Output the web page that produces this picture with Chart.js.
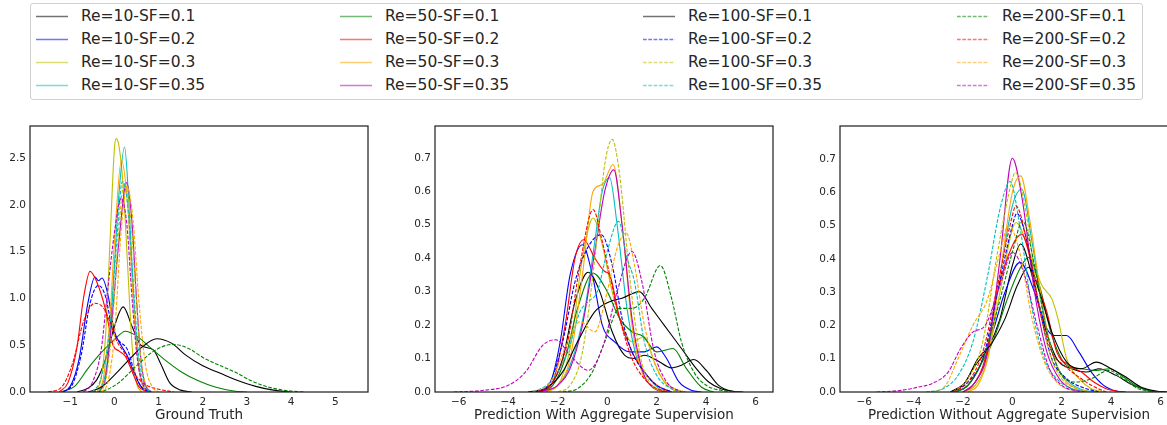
<!DOCTYPE html>
<html>
<head>
<meta charset="utf-8">
<script src="https://cdn.jsdelivr.net/npm/chart.js@4.4.1/dist/chart.umd.min.js"></script>
<style>
html, body { margin: 0; padding: 0; background: #fff; }
#wrap { position: relative; width: 1167px; height: 425px; overflow: hidden; font-family: "DejaVu Sans", sans-serif; }
#legend { position: absolute; left: 30px; top: 3px; width: 1111px; height: 95px; border: 1px solid #d0d0d0; border-radius: 3px; }
.item { position: absolute; height: 20px; line-height: 20px; font-size: 15.5px; color: #262626; white-space: nowrap; }
.item svg { position: absolute; left: 0; top: 9px; }
.item span { position: absolute; left: 45px; top: 0; }
.panel { position: absolute; top: 120px; }
</style>
</head>
<body>
<div id="wrap">
  <div id="legend"></div>
  <canvas id="c1" class="panel" width="384" height="305" style="left:-10px"></canvas>
  <canvas id="c2" class="panel" width="384" height="305" style="left:395px"></canvas>
  <canvas id="c3" class="panel" width="384" height="305" style="left:800px"></canvas>
</div>
<script>
/* ---------------- series ---------------- */
const seriesLabels = [
  "Re=10-SF=0.1", "Re=10-SF=0.2", "Re=10-SF=0.3", "Re=10-SF=0.35",
  "Re=50-SF=0.1", "Re=50-SF=0.2", "Re=50-SF=0.3", "Re=50-SF=0.35",
  "Re=100-SF=0.1", "Re=100-SF=0.2", "Re=100-SF=0.3", "Re=100-SF=0.35",
  "Re=200-SF=0.1", "Re=200-SF=0.2", "Re=200-SF=0.3", "Re=200-SF=0.35"
];
const seriesColors = [
  "#000000", "#0000ff", "#bfbf00", "#00bfbf",
  "#008000", "#ff0000", "#ffa500", "#bf00bf",
  "#000000", "#0000ff", "#bfbf00", "#00bfbf",
  "#008000", "#ff0000", "#ffa500", "#bf00bf"
];
const seriesDashed = [
  false, false, false, false,
  false, false, false, false,
  false, true, true, true,
  true, true, true, true
];

/* ---------------- ticks ---------------- */
const gtXTicks = [-1, 0, 1, 2, 3, 4, 5];
const gtYTicks = [0, 0.5, 1.0, 1.5, 2.0, 2.5];
const predXTicks = [-6, -4, -2, 0, 2, 4, 6];
const predYTicks = [0, 0.1, 0.2, 0.3, 0.4, 0.5, 0.6, 0.7];

/* ---------------- curves: [x, density] ---------------- */
const groundTruth = [
  [[-0.85,0],[-0.6,0.04],[-0.4,0.13],[-0.2,0.35],[0,0.7],[0.2,0.91],[0.4,0.7],[0.6,0.5],[0.88,0.45],[1.05,0.3],[1.25,0.1],[1.5,0.02],[1.75,0]],
  [[-1.2,0],[-1.0,0.06],[-0.8,0.35],[-0.6,0.95],[-0.44,1.23],[-0.36,1.19],[-0.28,1.22],[-0.15,1.05],[0,0.65],[0.15,0.5],[0.3,0.38],[0.45,0.2],[0.6,0.06],[0.8,0]],
  [[-0.45,0],[-0.3,0.15],[-0.2,0.6],[-0.1,1.6],[0,2.6],[0.04,2.71],[0.1,2.64],[0.2,2.2],[0.3,1.35],[0.4,0.5],[0.5,0.1],[0.62,0]],
  [[-0.35,0],[-0.2,0.2],[-0.1,0.6],[0,1.35],[0.1,2.1],[0.23,2.62],[0.33,2.0],[0.45,0.9],[0.55,0.3],[0.65,0.06],[0.8,0]],
  [[-1.2,0],[-0.9,0.06],[-0.6,0.25],[-0.3,0.42],[0,0.56],[0.25,0.65],[0.5,0.6],[0.8,0.48],[1.1,0.36],[1.5,0.22],[1.9,0.12],[2.3,0.05],[2.7,0.01],[3.0,0]],
  [[-1.25,0],[-1.05,0.1],[-0.85,0.47],[-0.7,1.0],[-0.55,1.29],[-0.4,1.18],[-0.2,0.88],[-0.03,0.5],[0.1,0.44],[0.25,0.38],[0.4,0.22],[0.55,0.06],[0.75,0]],
  [[-0.4,0],[-0.25,0.15],[-0.1,0.8],[0,1.6],[0.16,2.48],[0.3,2.0],[0.4,1.2],[0.5,0.5],[0.6,0.12],[0.75,0]],
  [[-0.35,0],[-0.2,0.15],[-0.05,0.8],[0.1,1.6],[0.28,2.24],[0.4,1.8],[0.5,1.0],[0.6,0.35],[0.7,0.08],[0.85,0]],
  [[-0.6,0],[-0.3,0.05],[0,0.18],[0.3,0.33],[0.6,0.47],[0.96,0.57],[1.3,0.52],[1.6,0.4],[2.0,0.28],[2.4,0.2],[2.7,0.14],[3.2,0.06],[3.6,0.02],[4.0,0]],
  [[-1.15,0],[-0.95,0.08],[-0.75,0.4],[-0.55,0.95],[-0.36,1.14],[-0.2,1.02],[-0.05,0.68],[0.1,0.55],[0.3,0.45],[0.45,0.22],[0.6,0.06],[0.85,0]],
  [[-0.35,0],[-0.2,0.12],[-0.05,0.7],[0.08,1.6],[0.22,2.23],[0.36,1.9],[0.48,1.1],[0.6,0.35],[0.72,0.06],[0.85,0]],
  [[-0.5,0],[-0.3,0.15],[-0.1,0.7],[0.05,1.6],[0.18,2.25],[0.3,2.0],[0.42,1.2],[0.55,0.4],[0.68,0.08],[0.8,0]],
  [[-0.5,0],[-0.2,0.02],[0.1,0.1],[0.5,0.28],[0.9,0.44],[1.33,0.51],[1.7,0.46],[2.0,0.37],[2.4,0.28],[2.7,0.22],[3.1,0.12],[3.5,0.05],[3.9,0.015],[4.3,0]],
  [[-1.5,0],[-1.2,0.05],[-0.95,0.3],[-0.7,0.75],[-0.44,0.95],[-0.25,0.9],[-0.1,0.75],[0.05,0.55],[0.25,0.4],[0.45,0.2],[0.7,0.08],[1.0,0.03],[1.35,0]],
  [[-0.3,0],[-0.15,0.1],[0,0.6],[0.15,1.7],[0.28,2.2],[0.42,1.85],[0.55,1.0],[0.7,0.3],[0.85,0.06],[1.0,0]],
  [[-0.7,0],[-0.5,0.1],[-0.3,0.45],[-0.15,1.1],[0,1.7],[0.15,2.07],[0.28,1.8],[0.4,1.0],[0.52,0.35],[0.65,0.08],[0.8,0]]
];

const withAggregate = [
  [[-3,0],[-2.3,0.02],[-1.8,0.1],[-1.3,0.27],[-0.77,0.358],[-0.3,0.3],[0.2,0.18],[0.7,0.11],[1.1,0.1],[1.5,0.11],[2.0,0.095],[2.6,0.072],[3.0,0.08],[3.5,0.097],[4.0,0.065],[4.5,0.02],[5.0,0.003],[5.5,0]],
  [[-3,0],[-2.3,0.03],[-1.9,0.15],[-1.5,0.35],[-1.0,0.44],[-0.6,0.35],[-0.2,0.2],[0.3,0.15],[0.9,0.12],[1.5,0.12],[2.0,0.135],[2.4,0.1],[2.9,0.03],[3.4,0.005],[3.8,0]],
  [[-2.5,0],[-2.0,0.02],[-1.5,0.13],[-1.0,0.4],[-0.57,0.52],[-0.2,0.44],[0.2,0.3],[0.6,0.2],[1.0,0.15],[1.5,0.165],[1.9,0.09],[2.3,0.03],[2.8,0]],
  [[-2.8,0],[-2.0,0.02],[-1.4,0.1],[-0.9,0.25],[-0.5,0.45],[-0.2,0.6],[0.1,0.64],[0.4,0.5],[0.8,0.25],[1.2,0.1],[1.6,0.05],[2.1,0.01],[2.6,0]],
  [[-2.8,0],[-2.2,0.02],[-1.7,0.1],[-1.2,0.25],[-0.57,0.355],[0,0.3],[0.5,0.22],[1.0,0.18],[1.45,0.166],[2.0,0.12],[2.66,0.13],[3.2,0.07],[3.8,0.015],[4.3,0]],
  [[-2.8,0],[-2.2,0.03],[-1.7,0.2],[-1.3,0.4],[-0.95,0.455],[-0.5,0.4],[-0.1,0.36],[0.1,0.35],[0.5,0.22],[1.0,0.12],[1.5,0.06],[2.0,0.02],[2.6,0]],
  [[-2.6,0],[-2.0,0.02],[-1.5,0.1],[-1.0,0.35],[-0.57,0.6],[-0.2,0.62],[0.24,0.68],[0.6,0.5],[1.0,0.2],[1.4,0.06],[1.9,0.015],[2.5,0]],
  [[-2.8,0],[-2.0,0.02],[-1.5,0.07],[-1.0,0.2],[-0.5,0.42],[-0.1,0.6],[0.27,0.664],[0.6,0.5],[1.0,0.22],[1.4,0.07],[1.9,0.01],[2.4,0]],
  [[-3.2,0],[-2.5,0.01],[-1.8,0.06],[-1.2,0.15],[-0.5,0.24],[0.1,0.27],[0.6,0.28],[1.3,0.3],[1.8,0.25],[2.3,0.2],[3.0,0.13],[3.6,0.07],[4.1,0.03],[4.6,0.01],[5.2,0]],
  [[-3,0],[-2.3,0.03],[-1.8,0.15],[-1.3,0.33],[-0.8,0.43],[-0.24,0.47],[0.2,0.38],[0.6,0.22],[1.0,0.12],[1.5,0.06],[2.0,0.02],[2.6,0]],
  [[-2,0],[-1.5,0.02],[-1.0,0.12],[-0.5,0.4],[-0.1,0.68],[0.2,0.755],[0.5,0.65],[0.9,0.35],[1.3,0.12],[1.7,0.03],[2.2,0]],
  [[-3,0],[-2.3,0.03],[-1.6,0.12],[-1.1,0.24],[-0.77,0.27],[-0.4,0.3],[0,0.42],[0.46,0.51],[0.8,0.4],[1.1,0.33],[1.5,0.15],[2.0,0.05],[2.6,0.01],[3.2,0]],
  [[-1.8,0],[-1.2,0.01],[-0.6,0.06],[-0.1,0.15],[0.5,0.25],[1.0,0.25],[1.5,0.28],[2.15,0.378],[2.6,0.28],[3.0,0.15],[3.5,0.06],[4.0,0.02],[4.6,0.005],[5.3,0]],
  [[-2.8,0],[-2.2,0.03],[-1.6,0.15],[-1.1,0.38],[-0.57,0.545],[-0.2,0.45],[0.1,0.35],[0.5,0.22],[1.0,0.1],[1.5,0.04],[2.0,0.01],[2.6,0]],
  [[-3,0],[-2.3,0.03],[-1.6,0.15],[-1.1,0.21],[-0.5,0.18],[0,0.3],[0.4,0.43],[0.77,0.475],[1.1,0.38],[1.5,0.2],[2.0,0.07],[2.6,0.015],[3.2,0]],
  [[-6.2,0],[-5,0.005],[-4,0.02],[-3.3,0.06],[-2.6,0.14],[-2.08,0.156],[-1.5,0.11],[-0.77,0.065],[-0.2,0.13],[0.4,0.3],[1.0,0.42],[1.4,0.33],[1.9,0.12],[2.4,0.03],[3.0,0]]
];

const withoutAggregate = [
  [[-2.5,0],[-2.0,0.02],[-1.5,0.08],[-1.0,0.13],[-0.5,0.22],[0,0.38],[0.34,0.445],[0.8,0.35],[1.3,0.2],[1.8,0.1],[2.4,0.07],[3.0,0.06],[3.5,0.07],[4.2,0.05],[4.9,0.02],[5.6,0.003],[6.2,0]],
  [[-2.3,0],[-1.8,0.02],[-1.3,0.08],[-0.8,0.18],[-0.3,0.3],[0.31,0.39],[0.9,0.3],[1.4,0.19],[1.7,0.17],[2.2,0.17],[2.7,0.12],[3.2,0.06],[3.7,0.02],[4.2,0.003],[4.6,0]],
  [[-2,0],[-1.5,0.02],[-1.0,0.1],[-0.5,0.3],[0.15,0.51],[0.7,0.42],[1.2,0.32],[1.6,0.28],[1.85,0.22],[2.2,0.1],[2.7,0.04],[3.2,0.01],[3.8,0]],
  [[-2,0],[-1.5,0.03],[-1.0,0.12],[-0.5,0.35],[0,0.56],[0.38,0.61],[0.8,0.45],[1.3,0.22],[1.8,0.08],[2.3,0.03],[2.9,0.005],[3.4,0]],
  [[-2.3,0],[-1.8,0.02],[-1.3,0.08],[-0.8,0.15],[-0.2,0.28],[0.3,0.37],[0.65,0.405],[1.1,0.32],[1.6,0.17],[2.2,0.08],[2.8,0.07],[3.4,0.065],[3.95,0.07],[4.5,0.045],[5.1,0.015],[5.8,0.002],[6.3,0]],
  [[-2,0],[-1.6,0.02],[-1.1,0.1],[-0.6,0.3],[0,0.44],[0.38,0.474],[0.9,0.35],[1.4,0.24],[1.8,0.12],[2.3,0.08],[2.8,0.06],[3.3,0.03],[3.8,0.01],[4.4,0]],
  [[-1.8,0],[-1.4,0.02],[-1.0,0.1],[-0.5,0.35],[0,0.6],[0.34,0.65],[0.7,0.52],[1.1,0.32],[1.5,0.15],[2.0,0.05],[2.6,0.01],[3.2,0]],
  [[-2,0],[-1.5,0.03],[-1.0,0.12],[-0.5,0.4],[0,0.703],[0.4,0.58],[0.9,0.3],[1.4,0.12],[1.9,0.04],[2.4,0.01],[3,0]],
  [[-2.5,0],[-1.9,0.03],[-1.4,0.1],[-0.9,0.14],[-0.3,0.22],[0.2,0.32],[0.65,0.375],[1.1,0.3],[1.6,0.18],[2.2,0.09],[2.8,0.07],[3.4,0.09],[4.0,0.07],[4.6,0.045],[5.2,0.015],[5.8,0.003],[6.3,0]],
  [[-2.4,0],[-1.8,0.03],[-1.2,0.1],[-0.6,0.3],[0,0.5],[0.18,0.537],[0.6,0.45],[1.1,0.25],[1.6,0.1],[2.2,0.04],[2.8,0.015],[3.5,0]],
  [[-2.4,0],[-1.8,0.04],[-1.2,0.15],[-0.6,0.42],[0,0.64],[0.12,0.66],[0.6,0.52],[1.0,0.3],[1.5,0.12],[2.0,0.04],[2.6,0.01],[3.2,0]],
  [[-3.5,0],[-2.8,0.01],[-2.2,0.05],[-1.6,0.15],[-1.0,0.35],[-0.5,0.55],[-0.09,0.633],[0.3,0.5],[0.8,0.25],[1.3,0.1],[1.8,0.04],[2.4,0.01],[3.0,0]],
  [[-2.3,0],[-1.8,0.02],[-1.2,0.1],[-0.6,0.25],[0,0.42],[0.42,0.514],[0.9,0.38],[1.4,0.18],[2.0,0.05],[2.6,0.03],[3.2,0.04],[3.9,0.065],[4.5,0.04],[5.1,0.01],[5.8,0]],
  [[-2.4,0],[-1.8,0.03],[-1.2,0.12],[-0.6,0.32],[0,0.53],[0.14,0.56],[0.6,0.45],[1.1,0.25],[1.6,0.12],[2.1,0.08],[2.6,0.05],[3.2,0.02],[3.8,0]],
  [[-3.2,0],[-2.7,0.02],[-2.2,0.1],[-1.6,0.2],[-1.0,0.28],[-0.5,0.42],[-0.16,0.5],[0.3,0.42],[0.8,0.22],[1.3,0.09],[1.8,0.03],[2.4,0.005],[3.0,0]],
  [[-5.5,0],[-4.5,0.005],[-3.8,0.015],[-3.2,0.027],[-2.6,0.06],[-2.1,0.13],[-1.6,0.18],[-1.1,0.2],[-0.5,0.32],[0.01,0.42],[0.5,0.35],[1.0,0.2],[1.5,0.07],[2.0,0.02],[2.5,0.005],[3.0,0]]
];

/* ---------------- styling ---------------- */
const TEXT = "#262626";
const FONT = "'DejaVu Sans', sans-serif";
const DASH = [3.7, 1.6];
Chart.defaults.font.family = FONT;

/* ---------- Legend (html, built from the series arrays) ---------- */
const legendCols = [5, 309, 612, 926];
const legendRows = [2, 25, 48, 71];
const legend = document.getElementById("legend");
seriesLabels.forEach((label, i) => {
    const col = Math.floor(i / 4), row = i % 4;
    const item = document.createElement("div");
    item.className = "item";
    item.style.left = legendCols[col] + "px";
    item.style.top = legendRows[row] + "px";
    const dash = seriesDashed[i] ? ` stroke-dasharray="${DASH.join(',')}"` : "";
    item.innerHTML =
        `<svg width="34" height="3"><line x1="0" y1="1.5" x2="32" y2="1.5" stroke="${seriesColors[i]}" stroke-opacity="0.55" stroke-width="1.5"${dash}/></svg>` +
        `<span>${label}</span>`;
    legend.appendChild(item);
});

/* frame round the plot area (all four spines) */
const framePlugin = {
    id: "frame",
    afterDraw(chart) {
        const { ctx, chartArea: a } = chart;
        ctx.save();
        ctx.strokeStyle = TEXT;
        ctx.lineWidth = 1.25;
        ctx.strokeRect(a.left, a.top, a.right - a.left, a.bottom - a.top);
        ctx.restore();
    }
};

function fmtX(v) {
    return v < 0 ? "\u2212" + Math.abs(v) : String(v);
}

function makePanel(id, curves, xMin, xMax, yMax, xTicks, yTicks, title) {
    const datasets = curves.map((pts, i) => ({
        label: seriesLabels[i],
        data: pts.map(([x, y]) => ({ x, y })),
        borderColor: seriesColors[i],
        borderWidth: 1.1,
        borderDash: seriesDashed[i] ? DASH : [],
        pointRadius: 0,
        fill: false,
        cubicInterpolationMode: "monotone",
        order: curves.length - i
    }));

    return new Chart(document.getElementById(id), {
        type: "line",
        data: { datasets },
        plugins: [framePlugin],
        options: {
            responsive: false,
            animation: false,
            devicePixelRatio: 1,
            layout: { padding: { top: 6, right: 6, left: 0, bottom: 0 } },
            plugins: { legend: { display: false }, tooltip: { enabled: false } },
            scales: {
                x: {
                    type: "linear",
                    min: xMin,
                    max: xMax,
                    afterBuildTicks: s => { s.ticks = xTicks.map(v => ({ value: v })); },
                    afterFit: s => { s.height = 33; s.paddingLeft = 0; s.paddingRight = 0; },
                    grid: { display: false, drawTicks: false },
                    border: { display: false },
                    ticks: {
                        autoSkip: false, maxRotation: 0, padding: 4,
                        color: TEXT, font: { size: 10.5 },
                        callback: v => fmtX(v)
                    },
                    title: {
                        display: true, text: title, color: TEXT,
                        font: { size: 13.5 }, padding: { top: 0, bottom: 1 }
                    }
                },
                y: {
                    type: "linear",
                    min: 0,
                    max: yMax,
                    afterBuildTicks: s => { s.ticks = yTicks.map(v => ({ value: v })); },
                    afterFit: s => { s.width = 40; s.paddingTop = 0; s.paddingBottom = 0; },
                    grid: { display: false, drawTicks: false },
                    border: { display: false },
                    ticks: {
                        autoSkip: false, padding: 4,
                        color: TEXT, font: { size: 10.5 },
                        callback: v => Number(v).toFixed(1)
                    }
                }
            }
        }
    });
}

makePanel("c1", groundTruth, -1.91, 5.74, 2.845, gtXTicks, gtYTicks, "Ground Truth");
makePanel("c2", withAggregate, -6.96, 6.7, 0.795, predXTicks, predYTicks, "Prediction With Aggregate Supervision");
makePanel("c3", withoutAggregate, -6.98, 6.71, 0.80, predXTicks, predYTicks, "Prediction Without Aggregate Supervision");
</script>
</body>
</html>
